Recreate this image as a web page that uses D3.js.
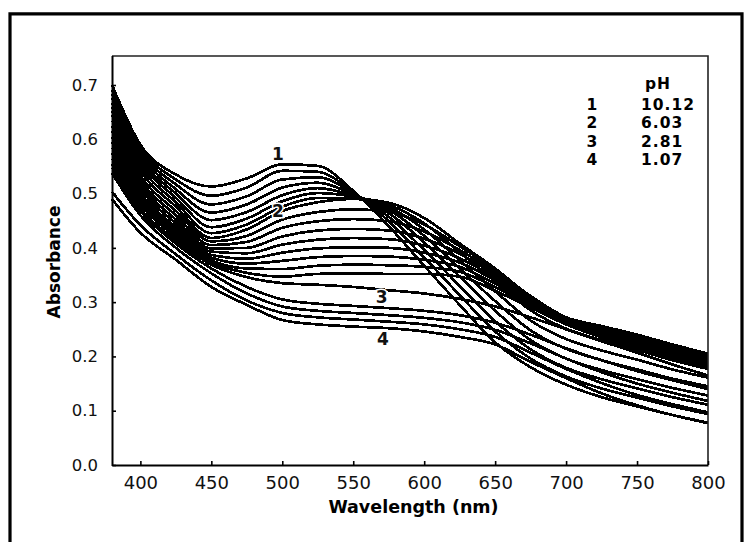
<!DOCTYPE html>
<html>
<head>
<meta charset="utf-8">
<script src="https://cdn.jsdelivr.net/npm/d3@7/dist/d3.min.js"></script>
<style>
	body { margin: 0; background: #fff; }
	svg { display: block; font-family: "DejaVu Sans", sans-serif; }
</style>
</head>
<body>
<div id="chart"></div>
<script>
const wavelengths = [380, 400, 425, 450, 475, 500, 525, 550, 575, 600, 625, 650, 675, 700, 725, 750, 775, 800];

// pH 10.12 (curve 1) down to pH 6.03 (curve 2)
const spectraHigh = [
	[0.700, 0.590, 0.535, 0.513, 0.528, 0.554, 0.551, 0.505, 0.440, 0.367, 0.295, 0.226, 0.180, 0.148, 0.125, 0.108, 0.092, 0.078],
	[0.692, 0.584, 0.526, 0.496, 0.511, 0.542, 0.540, 0.503, 0.449, 0.382, 0.313, 0.246, 0.196, 0.163, 0.141, 0.124, 0.108, 0.094],
	[0.684, 0.578, 0.517, 0.480, 0.495, 0.526, 0.530, 0.501, 0.457, 0.396, 0.330, 0.265, 0.213, 0.179, 0.158, 0.141, 0.125, 0.111],
	[0.676, 0.572, 0.508, 0.465, 0.480, 0.511, 0.520, 0.498, 0.464, 0.410, 0.347, 0.284, 0.230, 0.196, 0.175, 0.158, 0.142, 0.128],
	[0.668, 0.565, 0.500, 0.451, 0.466, 0.497, 0.510, 0.496, 0.470, 0.422, 0.362, 0.302, 0.248, 0.214, 0.193, 0.176, 0.159, 0.145],
	[0.660, 0.558, 0.492, 0.438, 0.454, 0.486, 0.501, 0.494, 0.475, 0.434, 0.377, 0.320, 0.266, 0.232, 0.211, 0.194, 0.176, 0.161],
	[0.652, 0.550, 0.484, 0.427, 0.443, 0.476, 0.492, 0.492, 0.479, 0.445, 0.392, 0.338, 0.285, 0.251, 0.230, 0.212, 0.193, 0.177],
	[0.645, 0.542, 0.476, 0.418, 0.434, 0.468, 0.484, 0.490, 0.483, 0.455, 0.408, 0.362, 0.310, 0.272, 0.256, 0.240, 0.222, 0.205]
];

// between pH 6.03 and pH 2.81 (last row is curve 3)
const spectraMid = [
	[0.635, 0.533, 0.468, 0.412, 0.422, 0.452, 0.466, 0.471, 0.466, 0.443, 0.403, 0.360, 0.311, 0.272, 0.254, 0.238, 0.220, 0.203],
	[0.625, 0.525, 0.460, 0.405, 0.411, 0.437, 0.449, 0.453, 0.449, 0.430, 0.396, 0.355, 0.309, 0.271, 0.252, 0.235, 0.217, 0.200],
	[0.615, 0.517, 0.452, 0.399, 0.400, 0.421, 0.432, 0.435, 0.432, 0.417, 0.389, 0.350, 0.307, 0.270, 0.250, 0.232, 0.214, 0.197],
	[0.605, 0.509, 0.445, 0.393, 0.390, 0.406, 0.415, 0.418, 0.416, 0.404, 0.381, 0.345, 0.304, 0.268, 0.247, 0.229, 0.211, 0.193],
	[0.595, 0.501, 0.438, 0.387, 0.380, 0.391, 0.399, 0.401, 0.400, 0.391, 0.373, 0.340, 0.301, 0.266, 0.244, 0.226, 0.207, 0.189],
	[0.585, 0.494, 0.432, 0.382, 0.371, 0.376, 0.383, 0.385, 0.384, 0.378, 0.365, 0.334, 0.298, 0.264, 0.241, 0.223, 0.203, 0.185],
	[0.575, 0.487, 0.426, 0.377, 0.362, 0.361, 0.367, 0.369, 0.368, 0.365, 0.356, 0.328, 0.294, 0.262, 0.238, 0.219, 0.199, 0.181],
	[0.565, 0.480, 0.420, 0.373, 0.354, 0.347, 0.352, 0.353, 0.352, 0.352, 0.347, 0.321, 0.290, 0.259, 0.235, 0.215, 0.195, 0.177],
	[0.555, 0.472, 0.414, 0.369, 0.346, 0.335, 0.332, 0.328, 0.322, 0.316, 0.306, 0.292, 0.272, 0.250, 0.228, 0.207, 0.185, 0.165]
];

// below pH 2.81 down to pH 1.07 (last row is curve 4)
const spectraLow = [
	[0.548, 0.468, 0.408, 0.362, 0.328, 0.305, 0.297, 0.293, 0.289, 0.284, 0.276, 0.262, 0.240, 0.215, 0.193, 0.173, 0.156, 0.140],
	[0.538, 0.460, 0.400, 0.353, 0.316, 0.292, 0.284, 0.280, 0.276, 0.271, 0.263, 0.249, 0.224, 0.196, 0.171, 0.150, 0.133, 0.118],
	[0.503, 0.442, 0.388, 0.340, 0.303, 0.280, 0.272, 0.268, 0.264, 0.259, 0.250, 0.236, 0.207, 0.177, 0.151, 0.129, 0.112, 0.097],
	[0.490, 0.428, 0.378, 0.328, 0.295, 0.267, 0.259, 0.255, 0.252, 0.246, 0.236, 0.222, 0.190, 0.160, 0.132, 0.110, 0.092, 0.077]
];

// curve numbers written on the plot (wavelength, absorbance of the text baseline)
const curveLabels = ["1", "2", "3", "4"];
const curveLabelWl = [497, 497, 570, 571];
const curveLabelAbs = [0.562, 0.457, 0.299, 0.221];

// legend table
const legendKeys = ["1", "2", "3", "4"];
const legendPH = ["10.12", "6.03", "2.81", "1.07"];

const xTicks = [400, 450, 500, 550, 600, 650, 700, 750, 800];
const yTicks = [0, 0.1, 0.2, 0.3, 0.4, 0.5, 0.6, 0.7];

const width = 748;
const height = 542;
const plot = { left: 112, right: 708, top: 56, bottom: 465 };

const svg = d3.select("#chart")
	.append("svg")
	.attr("width", width)
	.attr("height", height);

svg.append("rect")
	.attr("width", width)
	.attr("height", height)
	.attr("fill", "#fff");

// outer frame (runs off the bottom edge)
svg.append("path")
	.attr("d", "M10,548V13.8H742V548")
	.attr("fill", "none")
	.attr("stroke", "#000")
	.attr("stroke-width", 3.2);

const x = d3.scaleLinear()
	.domain([380, 800])
	.range([plot.left, plot.right]);

// 0.7 sits at y=85 in the picture, so the top edge is a little over 0.75
const y = d3.scaleLinear()
	.domain([0, 0.7])
	.range([plot.bottom, 85]);

// Spectra
const line = d3.line()
	.x(d => x(d[0]))
	.y(d => y(d[1]))
	.curve(d3.curveMonotoneX);

const allSpectra = spectraHigh.concat(spectraMid, spectraLow);

svg.append("g")
	.selectAll("path")
	.data(allSpectra)
	.join("path")
	.attr("d", s => line(s.map((v, i) => [wavelengths[i], v])))
	.attr("fill", "none")
	.attr("stroke", "#000")
	.attr("stroke-width", 2.7)
	.attr("stroke-linejoin", "round")
	.attr("shape-rendering", "crispEdges");

// Box: top and right edges
svg.append("path")
	.attr("d", `M${plot.left},${plot.top}H${plot.right}V${plot.bottom}`)
	.attr("fill", "none")
	.attr("stroke", "#222")
	.attr("stroke-width", 1.6);

// Axes
const xAxis = svg.append("g")
	.attr("transform", `translate(0,${plot.bottom})`)
	.call(d3.axisBottom(x)
		.tickValues(xTicks)
		.tickSize(-4)
		.tickSizeOuter(0)
		.tickPadding(11));

const yAxis = svg.append("g")
	.attr("transform", `translate(${plot.left},0)`)
	.call(d3.axisLeft(y)
		.tickValues(yTicks)
		.tickFormat(d3.format(".1f"))
		.tickSize(-4)
		.tickSizeOuter(0)
		.tickPadding(14));

xAxis.select(".domain").attr("stroke", "#000").attr("stroke-width", 2);
yAxis.select(".domain").attr("stroke", "#000").attr("stroke-width", 2)
	.attr("d", `M0.5,${plot.bottom + 1}V${plot.top}`);
xAxis.selectAll(".tick line").attr("stroke", "#000").attr("stroke-width", 1.6);
yAxis.selectAll(".tick line").attr("stroke", "#000").attr("stroke-width", 1.6);

xAxis.selectAll("text")
	.attr("font-family", "DejaVu Sans")
	.attr("font-size", 18)
	.attr("fill", "#111");
yAxis.selectAll("text")
	.attr("font-family", "DejaVu Sans")
	.attr("font-size", 16.5)
	.attr("fill", "#111");

// Axis titles
svg.append("text")
	.attr("x", 413.5)
	.attr("y", 513)
	.attr("text-anchor", "middle")
	.attr("font-weight", "bold")
	.attr("font-size", 17.5)
	.text("Wavelength (nm)");

svg.append("text")
	.attr("transform", "translate(60,262) rotate(-90)")
	.attr("text-anchor", "middle")
	.attr("font-weight", "bold")
	.attr("font-size", 17)
	.text("Absorbance");

// Curve numbers, with a thin white halo so they read over the lines
svg.append("g")
	.selectAll("text")
	.data(curveLabels)
	.join("text")
	.attr("x", (d, i) => x(curveLabelWl[i]))
	.attr("y", (d, i) => y(curveLabelAbs[i]))
	.attr("text-anchor", "middle")
	.attr("font-weight", "bold")
	.attr("font-size", 17)
	.attr("fill", "#111")
	.attr("stroke", "#fff")
	.attr("stroke-width", 3)
	.attr("paint-order", "stroke")
	.text(d => d);

// Legend table
const legendY = [109.5, 128, 146.5, 165];
const legend = svg.append("g")
	.attr("font-weight", "bold")
	.attr("font-size", 15.5)
	.attr("letter-spacing", 1)
	.attr("fill", "#000");

legend.append("text")
	.attr("x", 658)
	.attr("y", 89)
	.attr("text-anchor", "middle")
	.text("pH");

legend.selectAll(".key")
	.data(legendKeys)
	.join("text")
	.attr("class", "key")
	.attr("x", 592.5)
	.attr("y", (d, i) => legendY[i])
	.attr("text-anchor", "middle")
	.text(d => d);

legend.selectAll(".val")
	.data(legendPH)
	.join("text")
	.attr("class", "val")
	.attr("x", 641)
	.attr("y", (d, i) => legendY[i])
	.text(d => d);
</script>
</body>
</html>
